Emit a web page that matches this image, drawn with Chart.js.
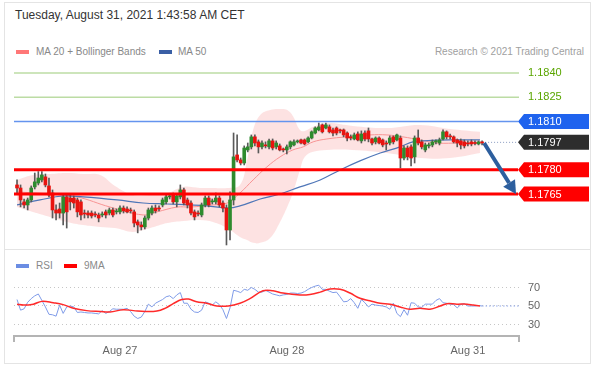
<!DOCTYPE html>
<html>
<head>
<meta charset="utf-8">
<script src="https://cdn.jsdelivr.net/npm/chart.js@4.4.0/dist/chart.umd.min.js"></script>
<style>
  body { margin: 0; background: #fff; font-family: "Liberation Sans", Arial, sans-serif; }
  .abs { position: absolute; white-space: nowrap; line-height: 1; }
  #frame { position: absolute; left: 4px; top: 2px; width: 587px; height: 362px; border: 1px solid #e4e4e4; box-sizing: border-box; }
  #sep { position: absolute; left: 4px; top: 249px; width: 587px; height: 1px; background: #e4e4e4; }
  .sw { position: absolute; height: 4px; width: 13px; }
  .lg { font-size: 10px; color: #888; }
  #main { position: absolute; left: 0; top: 0; }
  #rsi { position: absolute; left: 0; top: 250px; }
</style>
</head>
<body>
<div id="frame"></div>
<div id="sep"></div>
<div class="abs" style="left:15px;top:9px;font-size:12px;color:#333">Tuesday, August 31, 2021 1:43:58 AM CET</div>
<div class="sw" style="left:16px;top:50px;background:#f77"></div>
<div class="abs lg" style="left:36px;top:47px">MA 20 + Bollinger Bands</div>
<div class="sw" style="left:159px;top:50px;background:#3a5fa5"></div>
<div class="abs lg" style="left:178px;top:47px">MA 50</div>
<div class="abs lg" style="right:13px;top:47px;color:#a0a0a0">Research © 2021 Trading Central</div>
<div class="sw" style="left:16px;top:264px;background:#6b8de3"></div>
<div class="abs lg" style="left:36px;top:261px">RSI</div>
<div class="sw" style="left:64px;top:264px;background:#f00"></div>
<div class="abs lg" style="left:84px;top:261px">9MA</div>
<canvas id="main" width="597" height="250"></canvas>
<canvas id="rsi" width="597" height="117"></canvas>
<script>
// 30 min candles, index 0 = first candle on the left
const openP = [1.17706,1.17687,1.17601,1.17582,1.17613,1.17694,1.17718,1.17737,1.17756,1.17700,
  1.17656,1.17551,1.17557,1.17532,1.17632,1.17625,1.17625,1.17613,1.17601,1.17532,
  1.17532,1.17532,1.17526,1.17520,1.17520,1.17539,1.17532,1.17551,1.17539,1.17539,
  1.17563,1.17557,1.17551,1.17539,1.17477,1.17458,1.17446,1.17501,1.17532,1.17563,
  1.17563,1.17582,1.17601,1.17632,1.17644,1.17601,1.17632,1.17675,1.17613,1.17594,
  1.17539,1.17532,1.17520,1.17582,1.17625,1.17601,1.17601,1.17625,1.17594,1.17563,
  1.17427,1.17613,1.17892,1.17861,1.17842,1.17923,1.17942,1.18004,1.17973,1.17942,
  1.17954,1.17942,1.17979,1.17942,1.17948,1.17929,1.17923,1.17942,1.17954,1.17973,
  1.17985,1.17985,1.17973,1.17997,1.18028,1.18047,1.18078,1.18059,1.18066,1.18047,
  1.18059,1.18047,1.18047,1.18028,1.18004,1.17991,1.18022,1.17979,1.18028,1.18041,
  1.17991,1.17973,1.17997,1.17985,1.17966,1.17966,1.18004,1.17985,1.17997,1.17873,
  1.17935,1.17942,1.17880,1.17997,1.17973,1.17923,1.17948,1.17954,1.17973,1.17966,
  1.17991,1.18035,1.18010,1.18004,1.17985,1.17979,1.17973,1.17966,1.17973,1.17966,
  1.17960,1.17973];
const highP = [1.17737,1.17706,1.17619,1.17625,1.17700,1.17780,1.17789,1.17789,1.17774,1.17749,
  1.17675,1.17582,1.17594,1.17644,1.17650,1.17644,1.17638,1.17625,1.17613,1.17551,
  1.17545,1.17545,1.17539,1.17532,1.17539,1.17551,1.17563,1.17563,1.17557,1.17576,
  1.17576,1.17570,1.17563,1.17551,1.17489,1.17477,1.17514,1.17563,1.17576,1.17582,
  1.17576,1.17625,1.17644,1.17650,1.17656,1.17650,1.17706,1.17687,1.17625,1.17607,
  1.17551,1.17545,1.17594,1.17638,1.17638,1.17619,1.17656,1.17638,1.17607,1.17582,
  1.17663,1.18028,1.18016,1.17873,1.17948,1.17966,1.18016,1.18016,1.17985,1.17979,
  1.17973,1.17991,1.17991,1.17979,1.17960,1.17935,1.17954,1.17979,1.17985,1.17985,
  1.17991,1.17991,1.18004,1.18041,1.18066,1.18090,1.18084,1.18090,1.18078,1.18059,
  1.18066,1.18053,1.18053,1.18035,1.18016,1.18028,1.18035,1.18041,1.18041,1.18059,
  1.17997,1.18004,1.18004,1.17991,1.17979,1.18010,1.18010,1.18022,1.18010,1.17948,
  1.17948,1.17954,1.18010,1.18047,1.17985,1.17966,1.17966,1.17985,1.17985,1.17997,
  1.18047,1.18041,1.18022,1.18010,1.17991,1.17991,1.17985,1.17979,1.17985,1.17979,
  1.17979,1.17979];
const lowP = [1.17656,1.17570,1.17563,1.17551,1.17601,1.17681,1.17706,1.17725,1.17694,1.17632,
  1.17501,1.17489,1.17501,1.17458,1.17439,1.17551,1.17563,1.17508,1.17489,1.17501,
  1.17501,1.17501,1.17508,1.17477,1.17508,1.17501,1.17520,1.17508,1.17526,1.17526,
  1.17532,1.17532,1.17532,1.17446,1.17409,1.17427,1.17433,1.17489,1.17520,1.17532,
  1.17545,1.17570,1.17588,1.17619,1.17588,1.17570,1.17619,1.17582,1.17563,1.17520,
  1.17489,1.17514,1.17508,1.17570,1.17570,1.17588,1.17588,1.17570,1.17539,1.17334,
  1.17365,1.17582,1.17849,1.17830,1.17830,1.17911,1.17929,1.17948,1.17904,1.17929,
  1.17935,1.17929,1.17923,1.17929,1.17917,1.17911,1.17898,1.17929,1.17948,1.17966,
  1.17960,1.17954,1.17966,1.17991,1.18022,1.18041,1.18028,1.18053,1.18028,1.18010,
  1.18016,1.18028,1.18004,1.17979,1.17985,1.17985,1.17979,1.17966,1.17979,1.17973,
  1.17954,1.17960,1.17960,1.17942,1.17923,1.17954,1.17960,1.17979,1.17811,1.17861,
  1.17861,1.17824,1.17842,1.17954,1.17929,1.17911,1.17935,1.17942,1.17960,1.17954,
  1.17985,1.17991,1.17991,1.17966,1.17942,1.17929,1.17935,1.17948,1.17948,1.17954,
  1.17954,1.17954];
const closeP = [1.17687,1.17613,1.17582,1.17613,1.17687,1.17725,1.17749,1.17768,1.17706,1.17644,
  1.17551,1.17532,1.17532,1.17632,1.17539,1.17601,1.17594,1.17539,1.17520,1.17526,
  1.17520,1.17514,1.17520,1.17501,1.17526,1.17520,1.17551,1.17520,1.17545,1.17563,
  1.17545,1.17539,1.17545,1.17470,1.17458,1.17446,1.17501,1.17551,1.17563,1.17545,
  1.17557,1.17613,1.17632,1.17638,1.17601,1.17638,1.17675,1.17594,1.17582,1.17532,
  1.17508,1.17526,1.17582,1.17625,1.17582,1.17607,1.17625,1.17582,1.17563,1.17427,
  1.17613,1.17880,1.17861,1.17842,1.17935,1.17942,1.18004,1.17966,1.17942,1.17966,
  1.17948,1.17979,1.17935,1.17966,1.17923,1.17923,1.17942,1.17973,1.17973,1.17979,
  1.17966,1.17960,1.17997,1.18035,1.18059,1.18066,1.18035,1.18078,1.18035,1.18028,
  1.18028,1.18041,1.18016,1.17997,1.17997,1.18016,1.17985,1.18022,1.17991,1.17991,
  1.17966,1.17997,1.17966,1.17954,1.17960,1.17997,1.17973,1.18016,1.17873,1.17935,
  1.17880,1.17873,1.17997,1.17966,1.17942,1.17954,1.17954,1.17973,1.17979,1.17985,
  1.18035,1.18004,1.18004,1.17973,1.17966,1.17954,1.17948,1.17960,1.17960,1.17963,
  1.17973,1.17966];

const ma20X = [0,9.3,16.9,26.2,35.5,39.4,45.1,48.7,55.2,59.2,62.8,66.5,70.4,74.1,77.7,80.6,83.4,87.3,92.7,99.4,104.2,108.7,113.5,118.3,124.8,130.4];
const ma20Y = [1.17663,1.17650,1.17632,1.17569,1.17520,1.17539,1.17569,1.17569,1.17582,1.17594,1.17656,1.17737,1.17818,1.17880,1.17923,1.17942,1.17973,1.17991,1.18004,1.18016,1.18016,1.18004,1.17985,1.17966,1.17966,1.17966];
const ma50X = [0,6.5,13,18.6,28.2,35.5,42.3,48.7,53.5,59.4,62.8,68.5,74.1,79.7,85.4,91,96.6,102.3,107.9,111.5,114.4,122,130.4];
const ma50Y = [1.17582,1.17613,1.17638,1.17632,1.17613,1.17594,1.17588,1.17582,1.17576,1.17563,1.17576,1.17619,1.17650,1.17694,1.17737,1.17799,1.17855,1.17904,1.17942,1.17973,1.17979,1.17985,1.17985];
const bandX = [0,4.5,9.3,14.1,18.6,23.4,27.6,32.7,37.5,42.3,46.8,51.5,55.2,59.2,62.8,64.8,66.5,68.5,71.3,74.1,76.1,77.7,79.7,81.1,83.4,87.3,94.6,104.2,113.5,122,130.4];
const bandUp = [1.17737,1.17768,1.17774,1.17780,1.17774,1.17768,1.17700,1.17644,1.17644,1.17656,1.17694,1.17687,1.17687,1.17687,1.17706,1.17861,1.18047,1.18140,1.18171,1.18177,1.18171,1.18134,1.18047,1.18041,1.18066,1.18090,1.18072,1.18059,1.18078,1.18053,1.18035];
const bandLow = [1.17570,1.17539,1.17508,1.17477,1.17458,1.17446,1.17439,1.17415,1.17439,1.17470,1.17483,1.17489,1.17477,1.17439,1.17384,1.17365,1.17347,1.17347,1.17377,1.17477,1.17570,1.17656,1.17799,1.17880,1.17911,1.17923,1.17923,1.17904,1.17873,1.17873,1.17904];

const levelValues = [1.1840, 1.1825, 1.1810, 1.1797, 1.1780, 1.1765];
const levelKinds = ['target', 'target', 'resist', 'last', 'support', 'support'];

const rsiVals = [57,45.5,47,54,58,61,63,56,49,41,40.5,39,51,42,49,50,49,43,43.5,43,
  42.5,42.5,42,41.5,45,42,44,47,46.5,46.5,46.5,47.5,44,39,36.5,38,44,52,49,53,
  55,57,60,61,58,62,64.5,53,53,46.5,43.5,43,45.5,54.5,53,51,54.5,51.5,46,36.5,
  48,67,66,64.5,68,67,70,68,65,65,67,65,63,62,61,62,62.5,64,64,63.5,
  64,65.5,68,70,71.5,72.5,68,68,66,64.5,65,60,54.5,55,58,53.5,47.5,57,53.5,49,
  52,51,50.5,50,49,46.5,53,42,38.5,46,40,53.5,53,49,48.5,52,52,52,56,58,
  53.5,53,52,51.5,48,51.5,52.5,50,50,50,50.5,50];
const ma9X = [0,1.8,4.6,7,10.2,13,15.9,19.6,23.4,26.2,29.9,32.8,36.1,39.4,41.7,44,46.4,48.3,50.6,53.4,56.3,59.5,62.8,65.6,69.3,72.1,74.9,79.7,82.5,85.4,88.2,91,93.8,96.6,99.4,102.3,105.1,107.9,110.7,113.5,116.3,119.2,121.1,123.9,126.8,128.5,130.4];
const ma9Y = [52,51,52,55,53.5,51.5,47.5,45,44,43.5,46,45,44,44.5,47.5,52.5,57,57.5,54.5,53,50,50,53,58,66.5,66.5,64,62,62.5,65,68.4,68,64,58.3,55.7,53,52,49,46.5,47.5,46.5,50,52.5,52,52,51,50];
const rsiTicks = [30, 50, 70];

const xTickIdx = [29, 76, 127];
const xTickText = ['Aug 27', 'Aug 28', 'Aug 31'];

const xMin = -0.85, xMax = 141.4;

Chart.defaults.font.family = '"Liberation Sans", Arial, sans-serif';
Chart.defaults.animation = false;

const pts = (xs, ys) => xs.map((v, i) => ({ x: v, y: ys[i] }));

const mainOverlay = {
  id: 'mainOverlay',
  afterDatasetsDraw(chart) {
    const { ctx, chartArea: a, scales: { x, y } } = chart;
    const tip = a.right - 1;
    const lastI = closeP.length - 1;
    ctx.save();
    ctx.font = '11px "Liberation Sans", Arial, sans-serif';
    ctx.textBaseline = 'middle';
    levelValues.forEach((v, k) => {
      const kind = levelKinds[k];
      const py = y.getPixelForValue(v);
      ctx.setLineDash([]);
      let tagColor = null;
      if (kind === 'target') {
        ctx.strokeStyle = '#bcdca4';
        ctx.lineWidth = 1.5;
        ctx.beginPath(); ctx.moveTo(a.left, py); ctx.lineTo(a.right, py); ctx.stroke();
        ctx.fillStyle = '#5aa500';
        ctx.fillText(v.toFixed(4), tip + 10, py);
        return;
      }
      if (kind === 'resist') {
        ctx.strokeStyle = '#6494ee';
        ctx.lineWidth = 1.5;
        ctx.beginPath(); ctx.moveTo(a.left, py); ctx.lineTo(tip, py); ctx.stroke();
        tagColor = '#1f63ee';
      } else if (kind === 'last') {
        ctx.strokeStyle = '#8a9cc0';
        ctx.lineWidth = 1;
        ctx.setLineDash([1, 2]);
        ctx.beginPath(); ctx.moveTo(x.getPixelForValue(lastI) + 3, py); ctx.lineTo(tip, py); ctx.stroke();
        ctx.setLineDash([]);
        tagColor = '#2d2d2d';
      } else {
        ctx.strokeStyle = '#ff0000';
        ctx.lineWidth = 3;
        ctx.beginPath(); ctx.moveTo(a.left, py); ctx.lineTo(tip, py); ctx.stroke();
        tagColor = '#ff0000';
      }
      ctx.fillStyle = tagColor;
      ctx.beginPath();
      ctx.moveTo(tip, py);
      ctx.lineTo(tip + 6, py - 7.5);
      ctx.lineTo(589, py - 7.5);
      ctx.lineTo(589, py + 7.5);
      ctx.lineTo(tip + 6, py + 7.5);
      ctx.closePath();
      ctx.fill();
      ctx.fillStyle = '#fff';
      ctx.fillText(v.toFixed(4), tip + 10, py + 0.5);
    });

    // forecast arrow, from last close down to the second support
    const x0 = x.getPixelForValue(lastI) + 2, y0 = y.getPixelForValue(closeP[lastI]);
    const x1 = a.right - 3, y1 = y.getPixelForValue(levelValues[5]);
    const ang = Math.atan2(y1 - y0, x1 - x0);
    const hl = 13, hw = 7;
    const bx = x1 - hl * Math.cos(ang), by = y1 - hl * Math.sin(ang);
    ctx.strokeStyle = '#2d5f9e';
    ctx.fillStyle = '#2d5f9e';
    ctx.lineWidth = 4;
    ctx.beginPath(); ctx.moveTo(x0, y0); ctx.lineTo(bx, by); ctx.stroke();
    ctx.beginPath();
    ctx.moveTo(x1, y1);
    ctx.lineTo(bx + hw * Math.sin(ang), by - hw * Math.cos(ang));
    ctx.lineTo(bx - hw * Math.sin(ang), by + hw * Math.cos(ang));
    ctx.closePath();
    ctx.fill();
    ctx.restore();
  }
};

new Chart(document.getElementById('main'), {
  type: 'bar',
  data: {
    datasets: [
      {
        type: 'line', label: 'BB up', data: pts(bandX, bandUp),
        borderWidth: 0, pointRadius: 0, tension: 0.4, fill: false, order: 6
      },
      {
        type: 'line', label: 'BB low', data: pts(bandX, bandLow),
        borderWidth: 0, pointRadius: 0, tension: 0.4, fill: '-1',
        backgroundColor: 'rgba(250, 160, 160, 0.3)', order: 6
      },
      {
        type: 'line', label: 'MA 20', data: pts(ma20X, ma20Y),
        borderColor: '#f79494', borderWidth: 1, pointRadius: 0, tension: 0.4, order: 4
      },
      {
        type: 'line', label: 'MA 50', data: pts(ma50X, ma50Y),
        borderColor: '#4f76b8', borderWidth: 1.2, pointRadius: 0, tension: 0.4, order: 3
      },
      {
        label: 'wick', data: lowP.map((l, i) => ({ x: i, y: [l, highP[i]] })),
        backgroundColor: '#5a5a5a', barThickness: 1, grouped: false, order: 2
      },
      {
        label: 'body', data: openP.map((o, i) => ({ x: i, y: [o, closeP[i]] })),
        backgroundColor: c => closeP[c.dataIndex] >= openP[c.dataIndex] ? '#2e8b2e' : '#e8130f',
        barThickness: 3, minBarLength: 1, grouped: false, order: 1
      }
    ]
  },
  options: {
    responsive: false,
    layout: { padding: { left: 14, right: 78, top: 62, bottom: 1 } },
    plugins: { legend: { display: false }, tooltip: { enabled: false } },
    scales: {
      x: { type: 'linear', min: xMin, max: xMax, offset: false, display: false },
      y: { min: 1.17309, max: 1.18468, display: false }
    }
  },
  plugins: [mainOverlay]
});

const rsiOverlay = {
  id: 'rsiOverlay',
  afterDatasetsDraw(chart) {
    const { ctx, chartArea: a, scales: { x, y } } = chart;
    const last = rsiVals.length - 1;
    const py = y.getPixelForValue(rsiVals[last]);
    ctx.save();
    ctx.strokeStyle = '#8ea6ea';
    ctx.lineWidth = 1;
    ctx.setLineDash([1.5, 2]);
    ctx.beginPath(); ctx.moveTo(x.getPixelForValue(last), py); ctx.lineTo(a.right, py); ctx.stroke();
    ctx.setLineDash([]);
    ctx.strokeStyle = '#b4b4b4';
    ctx.lineWidth = 2;
    const by = a.bottom + 1;
    ctx.beginPath();
    ctx.moveTo(a.left, by + 6); ctx.lineTo(a.left, by);
    ctx.lineTo(a.right, by); ctx.lineTo(a.right, by + 6);
    ctx.stroke();
    ctx.restore();
  }
};

new Chart(document.getElementById('rsi'), {
  type: 'line',
  data: {
    datasets: [
      {
        label: '9MA', data: pts(ma9X, ma9Y),
        borderColor: '#ff2a2a', borderWidth: 1.5, pointRadius: 0, tension: 0.4, order: 1
      },
      {
        label: 'RSI', data: rsiVals.map((v, i) => ({ x: i, y: v })),
        borderColor: '#7f9be8', borderWidth: 1, pointRadius: 0, tension: 0, order: 2
      }
    ]
  },
  options: {
    responsive: false,
    layout: { padding: { left: 14, right: 0, top: 27, bottom: 0 } },
    plugins: { legend: { display: false }, tooltip: { enabled: false } },
    scales: {
      x: {
        type: 'linear', min: xMin, max: xMax,
        afterFit: s => { s.height = 32; },
        afterBuildTicks: s => { s.ticks = xTickIdx.map(v => ({ value: v })); },
        grid: { display: false, drawTicks: false },
        border: { display: false },
        ticks: {
          autoSkip: false, maxRotation: 0, padding: 9, color: '#666', font: { size: 11 },
          callback: v => xTickText[xTickIdx.indexOf(v)]
        }
      },
      y: {
        position: 'right', min: 18.65, max: 81.35,
        afterFit: s => { s.width = 78; },
        afterBuildTicks: s => { s.ticks = rsiTicks.map(v => ({ value: v })); },
        grid: { color: '#c6c6c6', drawTicks: false },
        border: { display: false, dash: [1, 3] },
        ticks: { padding: 9, color: '#666', font: { size: 11 } }
      }
    }
  },
  plugins: [rsiOverlay]
});
</script>
</body>
</html>
